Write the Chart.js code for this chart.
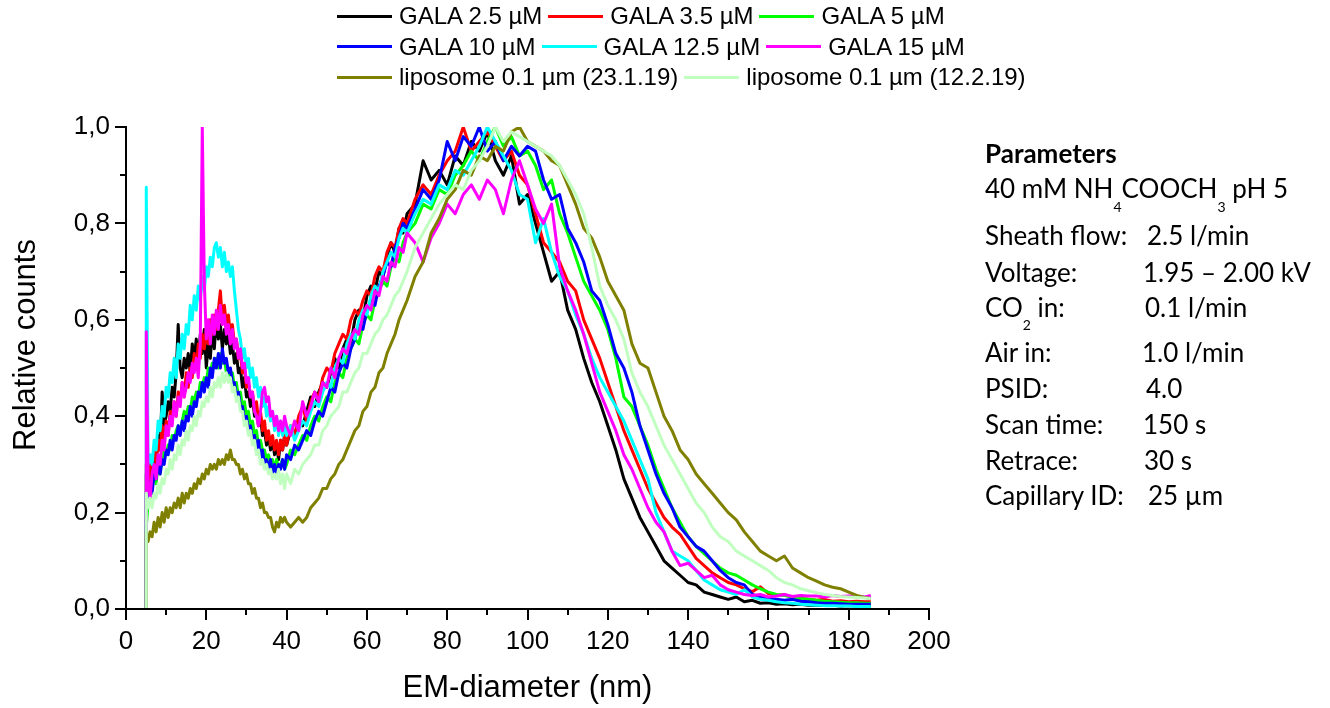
<!DOCTYPE html>
<html><head><meta charset="utf-8">
<script src="https://cdn.jsdelivr.net/npm/chart.js@4.4.1/dist/chart.umd.min.js"></script>
<style>
html,body{margin:0;padding:0;background:#fff}
#wrap{position:relative;width:1330px;height:708px;overflow:hidden}
#cv{position:absolute;left:0;top:0}
.leg-row{position:absolute;left:337px;height:24px;display:flex;align-items:center;gap:6px;font:24px 'Liberation Sans',Arial,sans-serif;line-height:24px;color:#000;white-space:nowrap}
.leg-item{display:flex;align-items:center}
.leg-line{width:55px;height:3px;margin-right:7px}
.prm{position:absolute;font-family:Lato,sans-serif;font-size:26px;line-height:normal;color:#000;white-space:nowrap}
.prm sub{font-size:14px;vertical-align:baseline;position:relative;top:14px}
</style></head><body>
<div id="wrap"><canvas id="cv" width="1330" height="708"></canvas><div id="legend"></div><div id="params"></div></div>
<script>
// ═══ DATA ═══
var diam=[5,5.05,
  5.5,6,6.5,7,7.5,8,8.5,9,9.5,10,
  10.5,11,11.5,12,12.5,13,13.5,14,14.5,15,
  15.5,16,16.5,17,17.5,18,18.5,19,19.5,20,
  20.5,21,21.5,22,22.5,23,23.5,24,24.5,25,
  25.5,26,26.5,27,27.5,28,28.5,29,29.5,30,
  30.5,31,31.5,32,32.5,33,33.5,34,34.5,35,
  35.5,36,36.5,37,37.5,38,38.5,39,39.5,40,
  41,42,43,44,45,
  46,47,48,49,50,51,52,53,54,55,
  56,57,58,59,60,61,62,63,64,65,
  66,67,68,69,70,
  72,74,76,78,80,82,84,86,88,90,
  92,94,96,98,100,102,104,106,108,110,
  112,114,116,118,120,122,124,126,128,130,
  132,134,136,138,140,142,144,146,148,150,
  152,154,156,158,160,162,164,166,168,170,
  172,174,176,178,180,182,184,
  185.5];

var gala25=[0,0.28,
  0.30,0.25,0.29,0.32,0.30,0.36,0.33,0.45,0.38,0.40,
  0.43,0.41,0.46,0.44,0.49,0.59,0.50,0.48,0.52,0.50,
  0.53,0.49,0.55,0.52,0.56,0.51,0.57,0.53,0.58,0.50,
  0.55,0.52,0.58,0.54,0.60,0.56,0.59,0.54,0.58,0.55,
  0.57,0.53,0.55,0.51,0.53,0.49,0.50,0.46,0.48,0.44,
  0.45,0.42,0.44,0.40,0.41,0.38,0.40,0.36,0.37,0.34,
  0.36,0.33,0.35,0.32,0.34,0.31,0.35,0.33,0.36,0.34,
  0.37,0.36,0.39,0.38,0.41,
  0.44,0.42,0.45,0.47,0.46,0.49,0.52,0.50,0.54,0.56,
  0.55,0.60,0.62,0.60,0.65,0.67,0.66,0.70,0.69,0.73,
  0.76,0.74,0.79,0.78,0.82,
  0.84,0.93,0.89,0.91,0.88,0.94,0.92,0.97,0.95,0.99,
  0.93,0.90,0.94,0.84,0.86,0.80,0.74,0.68,0.70,0.62,
  0.58,0.52,0.47,0.43,0.38,0.33,0.27,0.23,0.19,0.16,
  0.13,0.10,0.085,0.07,0.055,0.05,0.035,0.03,0.025,0.02,
  0.025,0.015,0.018,0.012,0.013,0.01,0.011,0.009,0.01,0.008,
  0.008,0.007,0.008,0.006,0.007,0.006,0.006,
  0.006];

var gala35=[0,0.30,
  0.31,0.27,0.31,0.33,0.30,0.35,0.33,0.38,0.35,0.39,
  0.36,0.41,0.39,0.43,0.40,0.45,0.43,0.47,0.44,0.49,
  0.46,0.50,0.48,0.53,0.50,0.55,0.52,0.57,0.54,0.58,
  0.55,0.60,0.57,0.61,0.58,0.62,0.66,0.60,0.63,0.59,
  0.61,0.57,0.59,0.55,0.56,0.52,0.53,0.49,0.50,0.46,
  0.47,0.44,0.45,0.41,0.43,0.39,0.41,0.37,0.39,0.35,
  0.37,0.34,0.36,0.33,0.35,0.32,0.35,0.33,0.36,0.34,
  0.38,0.36,0.40,0.42,0.39,
  0.43,0.45,0.44,0.48,0.50,0.49,0.53,0.55,0.57,0.56,
  0.60,0.62,0.61,0.64,0.66,0.65,0.69,0.71,0.70,0.74,
  0.76,0.75,0.79,0.81,0.80,
  0.85,0.88,0.86,0.90,0.93,0.95,1.0,0.95,0.97,0.99,
  0.96,0.93,0.95,0.90,0.88,0.82,0.76,0.74,0.72,0.68,
  0.66,0.60,0.56,0.52,0.47,0.42,0.37,0.33,0.29,0.25,
  0.22,0.19,0.17,0.155,0.13,0.105,0.09,0.075,0.065,0.055,
  0.05,0.042,0.036,0.046,0.032,0.028,0.03,0.024,0.022,0.02,
  0.018,0.02,0.016,0.017,0.015,0.016,0.015,
  0.015];

var gala5=[0,0.17,
  0.22,0.25,0.27,0.28,0.26,0.30,0.28,0.31,0.33,0.32,
  0.34,0.33,0.36,0.35,0.37,0.38,0.37,0.39,0.41,0.40,
  0.42,0.41,0.44,0.43,0.45,0.44,0.47,0.46,0.48,0.47,
  0.50,0.49,0.51,0.50,0.52,0.50,0.53,0.51,0.52,0.49,
  0.50,0.48,0.49,0.46,0.47,0.44,0.45,0.42,0.43,0.40,
  0.41,0.38,0.39,0.36,0.37,0.34,0.35,0.33,0.33,0.31,
  0.32,0.30,0.31,0.29,0.31,0.29,0.30,0.31,0.29,0.30,
  0.33,0.32,0.34,0.36,0.35,
  0.38,0.40,0.39,0.42,0.44,0.43,0.47,0.49,0.48,0.52,
  0.54,0.56,0.55,0.59,0.61,0.60,0.64,0.66,0.68,0.67,
  0.71,0.73,0.72,0.76,0.78,
  0.80,0.84,0.83,0.87,0.86,0.90,0.92,0.95,0.93,0.97,
  1.0,0.96,0.98,0.94,0.95,0.92,0.87,0.89,0.82,0.78,
  0.73,0.68,0.65,0.62,0.58,0.52,0.44,0.42,0.38,0.34,
  0.29,0.25,0.21,0.18,0.15,0.13,0.115,0.10,0.085,0.075,
  0.07,0.06,0.05,0.042,0.035,0.03,0.028,0.025,0.022,0.02,
  0.018,0.016,0.015,0.014,0.013,0.013,0.012,
  0.012];

var gala10=[0,0.24,
  0.23,0.26,0.24,0.28,0.27,0.30,0.28,0.31,0.30,0.33,
  0.32,0.35,0.33,0.36,0.35,0.38,0.36,0.39,0.37,0.40,
  0.39,0.42,0.40,0.43,0.42,0.45,0.44,0.47,0.45,0.48,
  0.46,0.50,0.48,0.52,0.50,0.53,0.50,0.54,0.51,0.52,
  0.49,0.50,0.47,0.47,0.44,0.45,0.42,0.42,0.39,0.40,
  0.37,0.38,0.35,0.36,0.33,0.35,0.31,0.33,0.30,0.31,
  0.29,0.31,0.28,0.30,0.28,0.30,0.29,0.31,0.29,0.32,
  0.31,0.34,0.33,0.35,0.37,
  0.36,0.39,0.41,0.40,0.43,0.46,0.45,0.49,0.51,0.50,
  0.54,0.56,0.59,0.58,0.62,0.64,0.63,0.67,0.69,0.72,
  0.71,0.75,0.77,0.80,0.79,
  0.83,0.87,0.85,0.89,0.97,0.93,0.98,0.96,1.0,0.95,
  0.97,0.93,0.96,0.94,0.96,0.95,0.89,0.85,0.86,0.79,
  0.76,0.72,0.66,0.64,0.59,0.53,0.50,0.45,0.38,0.33,
  0.28,0.24,0.21,0.17,0.15,0.13,0.12,0.10,0.08,0.065,
  0.055,0.05,0.03,0.025,0.022,0.02,0.018,0.02,0.016,0.015,
  0.013,0.012,0.012,0.011,0.01,0.01,0.01,
  0.01];

var gala125=[0,0.875,
  0.30,0.32,0.30,0.35,0.33,0.39,0.37,0.42,0.40,0.46,
  0.44,0.49,0.47,0.52,0.48,0.55,0.52,0.57,0.54,0.59,
  0.57,0.63,0.60,0.65,0.62,0.67,0.64,0.69,0.66,0.71,
  0.69,0.73,0.71,0.75,0.76,0.73,0.75,0.71,0.74,0.70,
  0.72,0.69,0.71,0.66,0.62,0.58,0.56,0.52,0.54,0.50,
  0.52,0.48,0.50,0.46,0.48,0.44,0.46,0.42,0.44,0.40,
  0.42,0.39,0.41,0.37,0.40,0.36,0.39,0.36,0.38,0.36,
  0.38,0.35,0.37,0.39,0.38,
  0.41,0.43,0.42,0.45,0.47,0.46,0.50,0.52,0.51,0.55,
  0.57,0.56,0.60,0.62,0.61,0.65,0.67,0.66,0.70,0.72,
  0.74,0.73,0.77,0.79,0.78,
  0.82,0.85,0.84,0.88,0.87,0.91,0.90,0.93,0.96,1.0,
  0.97,0.94,0.91,0.86,0.85,0.76,0.81,0.74,0.69,0.66,
  0.61,0.57,0.52,0.48,0.45,0.42,0.39,0.35,0.31,0.27,
  0.20,0.16,0.12,0.11,0.10,0.08,0.06,0.05,0.04,0.035,
  0.03,0.04,0.025,0.02,0.018,0.015,0.013,0.012,0.01,0.009,
  0.008,0.007,0.007,0.006,0.006,0.005,0.005,
  0.005];

var gala15=[0,0.575,
  0.27,0.23,0.28,0.30,0.27,0.32,0.30,0.35,0.33,0.38,
  0.36,0.40,0.38,0.43,0.40,0.44,0.42,0.47,0.44,0.46,
  0.49,0.47,0.51,0.49,0.52,0.48,0.55,1.0,0.68,0.56,
  0.60,0.55,0.61,0.57,0.62,0.58,0.63,0.59,0.61,0.57,
  0.59,0.55,0.58,0.54,0.56,0.52,0.54,0.50,0.51,0.47,
  0.48,0.44,0.45,0.41,0.40,0.38,0.41,0.45,0.46,0.43,
  0.44,0.40,0.41,0.38,0.40,0.37,0.39,0.37,0.40,0.38,
  0.36,0.39,0.37,0.43,0.40,
  0.42,0.45,0.43,0.47,0.46,0.50,0.48,0.52,0.54,0.53,
  0.56,0.58,0.57,0.61,0.63,0.62,0.66,0.65,0.69,0.68,
  0.72,0.71,0.75,0.74,0.78,
  0.76,0.72,0.77,0.80,0.84,0.82,0.86,0.88,0.85,0.89,
  0.87,0.82,0.89,0.93,0.88,0.83,0.80,0.84,0.71,0.66,
  0.62,0.57,0.51,0.45,0.41,0.37,0.32,0.29,0.25,0.21,
  0.18,0.16,0.12,0.09,0.095,0.08,0.065,0.07,0.05,0.04,
  0.035,0.03,0.028,0.03,0.025,0.027,0.03,0.026,0.028,0.027,
  0.027,0.025,0.028,0.026,0.027,0.026,0.025,
  0.028];

var lipo2301=[0,0.16,
  0.14,0.16,0.15,0.18,0.16,0.19,0.17,0.20,0.18,0.21,
  0.19,0.21,0.20,0.22,0.21,0.23,0.21,0.24,0.22,0.24,
  0.23,0.25,0.24,0.26,0.25,0.27,0.26,0.28,0.27,0.29,
  0.28,0.30,0.29,0.30,0.29,0.31,0.30,0.31,0.30,0.32,
  0.31,0.33,0.31,0.31,0.30,0.30,0.28,0.29,0.27,0.28,
  0.26,0.26,0.24,0.25,0.23,0.23,0.21,0.22,0.20,0.20,
  0.19,0.19,0.17,0.16,0.18,0.17,0.19,0.18,0.19,0.18,
  0.17,0.18,0.19,0.18,0.19,
  0.21,0.22,0.23,0.25,0.25,0.27,0.28,0.30,0.31,0.33,
  0.35,0.37,0.38,0.41,0.42,0.45,0.46,0.49,0.50,0.53,
  0.55,0.57,0.60,0.62,0.64,
  0.69,0.72,0.78,0.81,0.85,0.87,0.91,0.90,0.94,0.93,
  0.96,0.95,0.99,1.0,0.97,0.96,0.95,0.93,0.92,0.88,
  0.84,0.79,0.77,0.73,0.68,0.65,0.62,0.55,0.51,0.50,
  0.45,0.40,0.37,0.33,0.31,0.28,0.26,0.24,0.22,0.20,
  0.185,0.16,0.14,0.12,0.11,0.10,0.11,0.085,0.075,0.065,
  0.058,0.05,0.045,0.042,0.035,0.028,0.024,
  0.022];

var lipo1202=[0,0.24,
  0.21,0.23,0.21,0.24,0.23,0.26,0.24,0.27,0.26,0.29,
  0.28,0.31,0.29,0.32,0.31,0.34,0.32,0.35,0.34,0.37,
  0.35,0.38,0.37,0.40,0.38,0.41,0.40,0.43,0.42,0.44,
  0.43,0.46,0.44,0.47,0.46,0.48,0.46,0.49,0.47,0.49,
  0.47,0.48,0.45,0.46,0.43,0.44,0.41,0.41,0.38,0.39,
  0.36,0.37,0.34,0.35,0.32,0.33,0.30,0.31,0.29,0.30,
  0.28,0.29,0.27,0.28,0.27,0.29,0.26,0.28,0.25,0.28,
  0.26,0.29,0.28,0.30,0.31,
  0.32,0.34,0.34,0.37,0.38,0.40,0.41,0.42,0.45,0.45,
  0.47,0.49,0.50,0.53,0.53,0.55,0.57,0.58,0.60,0.61,
  0.63,0.65,0.66,0.68,0.70,
  0.75,0.78,0.81,0.84,0.86,0.88,0.87,0.91,0.93,0.96,
  1.0,0.97,0.99,0.98,0.97,0.96,0.95,0.94,0.92,0.89,
  0.86,0.82,0.75,0.67,0.63,0.60,0.56,0.49,0.45,0.42,
  0.38,0.34,0.31,0.28,0.25,0.22,0.20,0.17,0.15,0.14,
  0.12,0.11,0.10,0.09,0.08,0.065,0.055,0.05,0.042,0.038,
  0.034,0.03,0.028,0.026,0.025,0.024,0.023,
  0.022];

var seriesNames=['GALA 2.5 µM','GALA 3.5 µM','GALA 5 µM','GALA 10 µM','GALA 12.5 µM','GALA 15 µM','liposome 0.1 µm (23.1.19)','liposome 0.1 µm (12.2.19)'];
var seriesVals=[gala25,gala35,gala5,gala10,gala125,gala15,lipo2301,lipo1202];
var seriesColors=['#000000','#ff0000','#00ff00','#0000ff','#00ffff','#ff00ff','#808000','#c0ffc0'];

var paramLabels=['<b>Parameters</b>','40 mM NH<sub>4</sub>COOCH<sub>3</sub> pH 5','Sheath flow:','Voltage:','CO<sub>2</sub> in:','Air in:','PSID:','Scan time:','Retrace:','Capillary ID:'];
var paramValues=['','','2.5 l/min','1.95 – 2.00 kV','0.1 l/min','1.0 l/min','4.0','150 s','30 s','25 µm'];

// ═══ LAYOUT (px) ═══
var FONT="'Liberation Sans',Arial,sans-serif";
var legRows=[[0,1,2],[3,4,5],[6,7]],legTop=[4,34.5,65];
var prmBase=[163,198,245,282,317,362,398,434,470,505],prmValX=[0,0,1147,1143,1145,1142,1146,1143,1144,1148];

// legend
var lg=document.getElementById('legend');
legRows.forEach(function(row,r){
  var d=document.createElement('div');d.className='leg-row';d.style.top=legTop[r]+'px';
  d.innerHTML=row.map(function(i){return'<div class="leg-item"><span class="leg-line" style="background:'+seriesColors[i]+'"></span><span>'+seriesNames[i]+'</span></div>';}).join('');
  lg.appendChild(d);
});

// parameters box (Lato ascent ~0.987em)
var pb=document.getElementById('params');
paramLabels.forEach(function(t,i){
  var top=(prmBase[i]-25.7)+'px';
  var a=document.createElement('div');a.className='prm';a.style.left='985px';a.style.top=top;a.innerHTML=t;pb.appendChild(a);
  if(paramValues[i]){var b=document.createElement('div');b.className='prm';b.style.left=prmValX[i]+'px';b.style.top=top;b.textContent=paramValues[i];pb.appendChild(b);}
});
document.querySelectorAll('.prm sub').forEach(function(s){if(s.textContent==='2')s.style.top='13px';});

// ═══ CHART ═══
Chart.defaults.font.family=FONT;
Chart.defaults.color='#000';

// axis lines, major/minor tick marks and axis titles
var axesPlugin={id:'axes',afterDraw:function(ch){
  var c=ch.ctx,xs=ch.scales.x,ys=ch.scales.y,a=ch.chartArea;
  var x0=Math.round(a.left),y0=Math.round(a.bottom);
  c.save();c.strokeStyle='#000';c.lineWidth=2;c.lineCap='square';
  c.beginPath();c.moveTo(x0,a.top);c.lineTo(x0,y0);c.lineTo(a.right,y0);c.stroke();
  c.lineCap='butt';
  ys.ticks.forEach(function(t){var p=Math.round(ys.getPixelForValue(t.value));var len=Math.round(t.value*10)%2?6:11;
    c.beginPath();c.moveTo(x0-len,p);c.lineTo(x0,p);c.stroke();});
  xs.ticks.forEach(function(t){var p=Math.round(xs.getPixelForValue(t.value));var len=Math.round(t.value/10)%2?6:11;
    c.beginPath();c.moveTo(p,y0);c.lineTo(p,y0+len);c.stroke();});
  c.fillStyle='#000';c.font='31px '+FONT;c.textAlign='center';c.textBaseline='alphabetic';
  c.fillText('EM-diameter (nm)',(a.left+a.right)/2,697);
  c.translate(35,345);c.rotate(-Math.PI/2);c.fillText('Relative counts',0,0);
  c.restore();
}};

var datasets=seriesVals.map(function(vals,i){
  return{label:seriesNames[i],
    data:vals.map(function(v,j){return{x:diam[j],y:v};}),
    borderColor:seriesColors[i],backgroundColor:seriesColors[i],
    borderWidth:3,pointRadius:0,tension:0,fill:false,borderJoinStyle:'round',
    order:seriesVals.length-i}; // later series drawn on top
});

new Chart(document.getElementById('cv'),{type:'line',
  data:{datasets:datasets},
  options:{responsive:false,animation:false,events:[],
    layout:{padding:{left:0,top:127,right:401,bottom:0}},
    plugins:{legend:{display:false},tooltip:{enabled:false}},
    scales:{
      x:{type:'linear',min:0,max:200,
        grid:{display:false,drawTicks:false},border:{display:false},
        ticks:{stepSize:10,autoSkip:false,maxRotation:0,padding:17,font:{size:26},
          callback:function(v){return Math.round(v)%20===0?String(v):'';}},
        afterFit:function(s){s.height=99;}},
      y:{type:'linear',min:0,max:1,
        grid:{display:false,drawTicks:false},border:{display:false},
        ticks:{stepSize:0.1,autoSkip:false,padding:16,font:{size:26},
          callback:function(v){return Math.round(v*10)%2===0?v.toFixed(1).replace('.',','):'';}},
        afterFit:function(s){s.width=126;}}
    }
  },
  plugins:[axesPlugin]
});
</script></body></html>
